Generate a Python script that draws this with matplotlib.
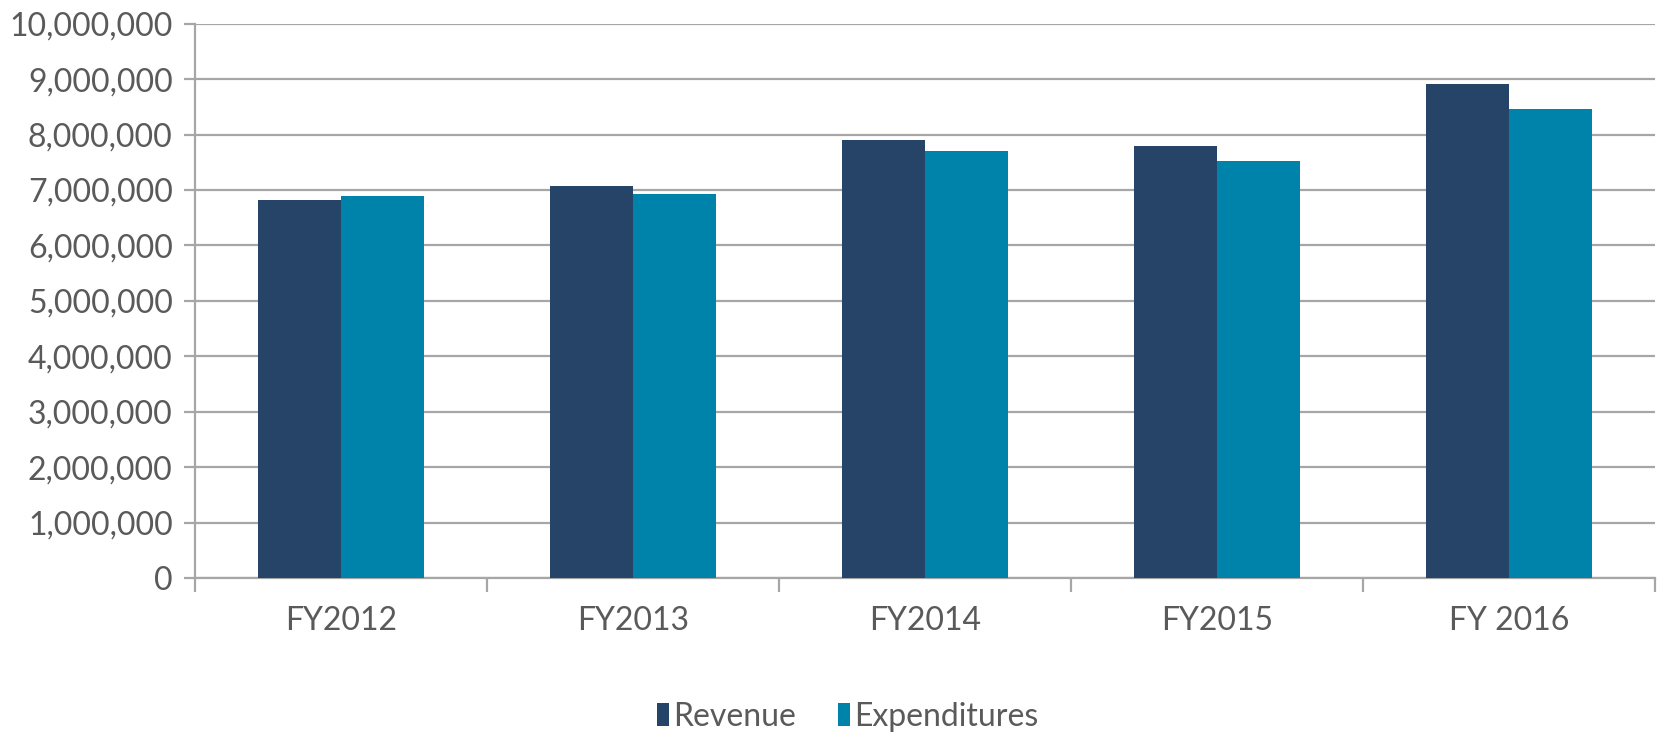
import numpy as np
import matplotlib; matplotlib.use("Agg")
import matplotlib.pyplot as plt
from matplotlib.ticker import FuncFormatter, FixedLocator

years = ["FY2012", "FY2013", "FY2014", "FY2015", "FY 2016"]
revenue = [6820000, 7080000, 7900000, 7800000, 8910000]
expenditures = [6890000, 6930000, 7710000, 7530000, 8460000]
C_REV = "#264468"; C_EXP = "#0083AB"; GRID = "#a6a6a6"; TXT = "#5a5a5a"

plt.rcParams["font.family"] = ["Lato", "DejaVu Sans"]
fig = plt.figure(figsize=(16.62, 7.42), dpi=100)
ax = fig.add_axes([0.1173, 0.221, 0.8785, 0.747])

x = np.arange(len(years)); w = 0.285
ax.bar(x - w / 2, revenue, w, color=C_REV, label="Revenue", zorder=3)
ax.bar(x + w / 2, expenditures, w, color=C_EXP, label="Expenditures", zorder=3)

ax.set_xlim(-0.5, len(years) - 0.5); ax.set_ylim(0, 10_000_000)
ax.set_yticks(np.arange(0, 10_000_001, 1_000_000))
ax.yaxis.set_major_formatter(FuncFormatter(lambda v, _: f"{int(v):,}"))
ax.grid(axis="y", color=GRID, lw=1.6, zorder=0)
ax.xaxis.set_major_locator(FixedLocator(np.arange(-0.5, len(years), 1.0)))
ax.xaxis.set_major_formatter(FuncFormatter(lambda v, _: ""))
ax.xaxis.set_minor_locator(FixedLocator(x))
ax.set_xticklabels(years, minor=True)
ax.tick_params(axis="x", which="major", length=10, width=1.6, color=GRID)
ax.tick_params(axis="x", which="minor", length=0, pad=20, labelsize=23, labelcolor=TXT)
ax.tick_params(axis="y", length=8, width=1.6, color=GRID, labelsize=23, labelcolor=TXT, pad=8)
for s in ["top", "right"]: ax.spines[s].set_visible(False)
for s in ["left", "bottom"]: ax.spines[s].set_color(GRID); ax.spines[s].set_linewidth(1.6)

leg = fig.legend(loc="lower center", bbox_to_anchor=(0.51, -0.025), ncol=2, frameon=False,
                 handlelength=0.4, handleheight=0.7, handletextpad=0.12,
                 columnspacing=1.3, prop={"size": 23})
for t in leg.get_texts(): t.set_color(TXT)
fig.savefig("out.png", dpi=100)
